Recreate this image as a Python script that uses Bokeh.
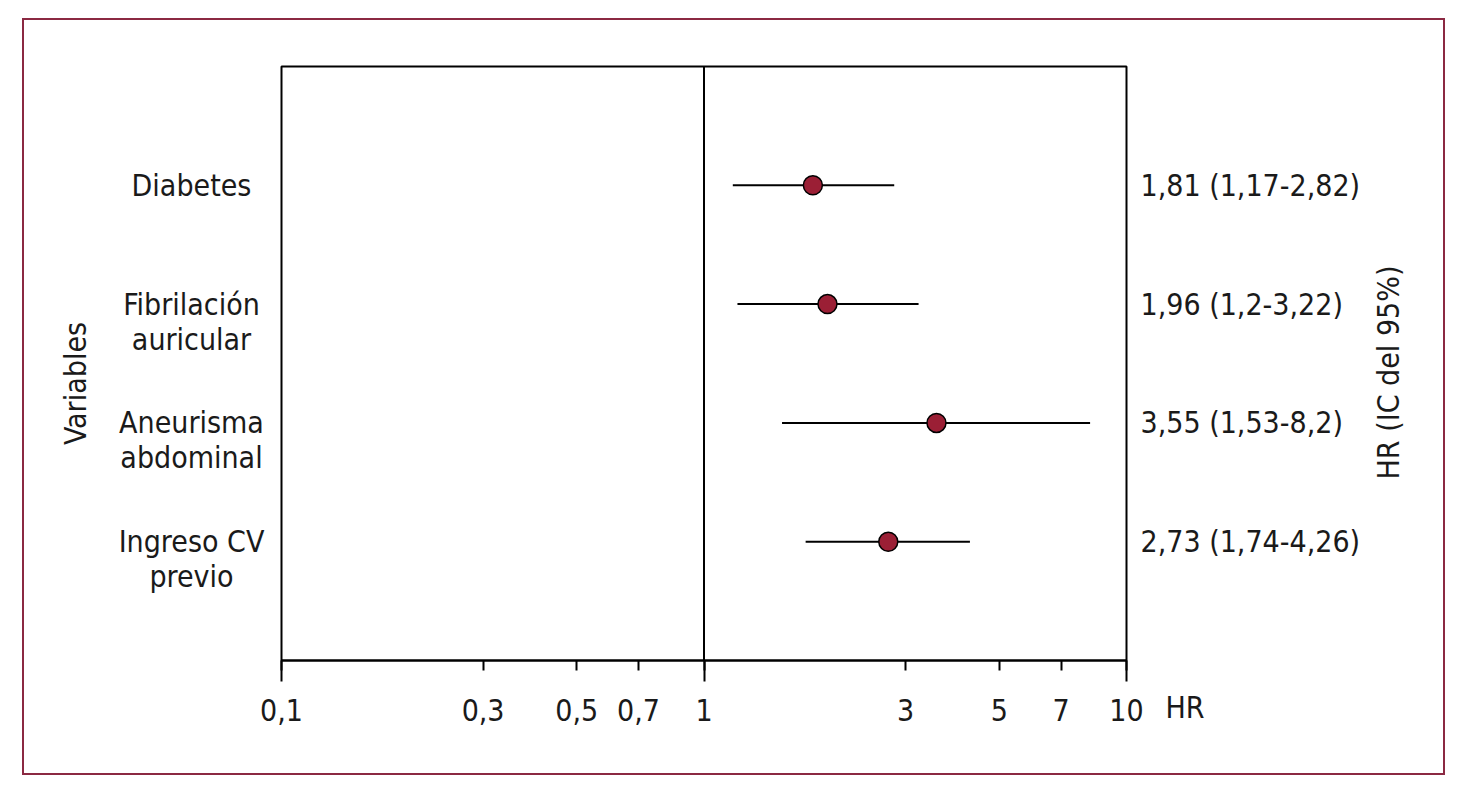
import math
from bokeh.plotting import figure
from bokeh.models import FixedTicker, ColumnDataSource
from bokeh.core.properties import value
from bokeh.embed import file_html
from bokeh.resources import INLINE

# ---- data ----
variables = ["Diabetes", "Fibrilación\nauricular", "Aneurisma\nabdominal", "Ingreso CV\nprevio"]
hr = [1.81, 1.96, 3.55, 2.73]
ci_low = [1.17, 1.2, 1.53, 1.74]
ci_high = [2.82, 3.22, 8.2, 4.26]
ci_labels = ["1,81 (1,17-2,82)", "1,96 (1,2-3,22)", "3,55 (1,53-8,2)", "2,73 (1,74-4,26)"]
x_ticks = [0.1, 0.3, 0.5, 0.7, 1, 3, 5, 7, 10]
x_tick_labels = ["0,1", "0,3", "0,5", "0,7", "1", "3", "5", "7", "10"]
decade_ticks = [0.1, 1, 10]
x_title = "HR"
y_title = "Variables"
right_title = "HR (IC del 95%)"

n = len(variables)
ypos = [n - i for i in range(n)]
x_lo, x_hi = x_ticks[0], x_ticks[-1]
ref_x = 1

# ---- layout constants (pixels) ----
CANVAS_W, CANVAS_H = 1419, 753
BOX_LEFT, BOX_RIGHT = 257, 1102        # box edges inside the canvas
BOX_TOP, BOX_BOTTOM = 46, 640
PX_DEC = (BOX_RIGHT - BOX_LEFT) / (math.log10(x_hi) - math.log10(x_lo))
PX_ROW = (BOX_BOTTOM - BOX_TOP) / (n + 1)
x_start = 10 ** (math.log10(x_lo) - BOX_LEFT / PX_DEC)
x_end = 10 ** (math.log10(x_hi) + (CANVAS_W - BOX_RIGHT) / PX_DEC)
y_start = -(CANVAS_H - BOX_BOTTOM) / PX_ROW
y_end = BOX_BOTTOM / PX_ROW

FONT = "DejaVu Sans Condensed"
FS = "30px"
TXT = "#1a1a1a"
RED = "#9b1f35"
BORDER = "#8b2942"

p = figure(frame_width=CANVAS_W, frame_height=CANVAS_H, x_axis_type="log",
           x_range=(x_start, x_end), y_range=(y_start, y_end),
           output_backend="svg", toolbar_location=None, y_axis_location=None,
           min_border=0)
p.styles = {"border": f"2px solid {BORDER}"}
p.margin = (18, 0, 0, 22)
p.xgrid.visible = False
p.ygrid.visible = False
p.outline_line_color = None
p.background_fill_color = "white"
p.border_fill_color = "white"

# x axis, drawn at y = 0 inside the frame
xa = p.xaxis[0]
xa.fixed_location = 0
xa.bounds = (x_lo, x_hi)
xa.ticker = FixedTicker(ticks=x_ticks, minor_ticks=decade_ticks)
xa.major_label_overrides = {t: l for t, l in zip(x_ticks, x_tick_labels)}
xa.major_tick_out = 10
xa.major_tick_in = 0
xa.minor_tick_out = 21
xa.minor_tick_in = 0
xa.major_tick_line_width = 2
xa.minor_tick_line_width = 2
xa.major_tick_line_color = "black"
xa.minor_tick_line_color = "black"
xa.axis_line_width = 2
xa.axis_line_color = "black"
xa.major_label_standoff = 17
xa.major_label_text_font = FONT
xa.major_label_text_font_size = FS
xa.major_label_text_color = TXT

# plot box
p.quad(left=[x_lo], right=[x_hi], bottom=[0], top=[n + 1],
       fill_color=None, line_color="black", line_width=2)
# reference line at HR = 1
p.segment(x0=[ref_x], y0=[0], x1=[ref_x], y1=[n + 1], line_color="black", line_width=2)

# CI lines and points
p.segment(x0=ci_low, y0=ypos, x1=ci_high, y1=ypos, line_color="black", line_width=2)
p.scatter(x=hr, y=ypos, marker="circle", size=19, fill_color=RED, line_color="black", line_width=1.5)

txt = dict(text_font=value(FONT), text_font_size=value(FS), text_color=TXT)

# right-hand CI labels
p.text(x=[x_hi] * n, y=ypos, text=ci_labels, x_offset=14,
       text_align="left", text_baseline="middle", **txt)

# left-hand variable labels (first line centred on the row)
LINE_H = 35
lx, ly, lt = [], [], []
for name, y in zip(variables, ypos):
    for j, line in enumerate(name.split("\n")):
        lx.append(x_lo)
        ly.append(y - j * LINE_H / PX_ROW)
        lt.append(line)
p.text(x=lx, y=ly, text=lt, x_offset=-90, text_align="center", text_baseline="middle", **txt)

# axis titles
p.text(x=[x_lo], y=[(BOX_BOTTOM - 363) / PX_ROW], text=[y_title], x_offset=-206, angle=math.pi / 2,
       text_align="center", text_baseline="middle", **txt)
p.text(x=[x_hi], y=[(BOX_BOTTOM - 352) / PX_ROW], text=[right_title], x_offset=262, angle=math.pi / 2,
       text_align="center", text_baseline="middle", **txt)
p.text(x=[x_hi], y=[-47 / PX_ROW], text=[x_title], x_offset=39,
       text_align="left", text_baseline="middle", **txt)

open("out.html", "w").write(file_html(p, INLINE))
